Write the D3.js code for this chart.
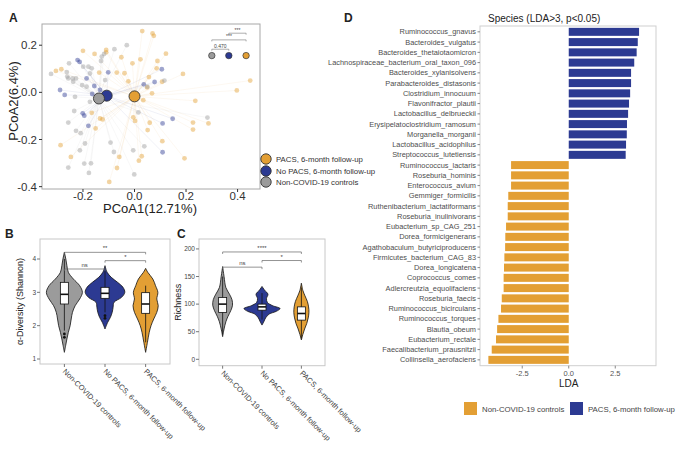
<!DOCTYPE html>
<html><head><meta charset="utf-8">
<script src="https://cdn.jsdelivr.net/npm/d3@7"></script>
<style>body{margin:0;background:#fff}svg{font-family:"Liberation Sans",Arial,sans-serif}</style>
</head><body><svg id="c" width="680" height="450"></svg>
<script>
// ---------------- DATA ----------------
const groupNames = ["PACS, 6-month follow-up","No PACS, 6-month follow-up","Non-COVID-19 controls"];
// Panel A: PCoA coordinates per group
const pacsPts = [[0.03,0.26],[0.07,0.25],[0.075,0.24],[-0.11,0.18],[-0.11,0.17],[-0.20,0.176],[-0.155,0.163],[-0.051,0.149],[0.122,0.164],[0.023,0.14],[0.089,0.133],[-0.008,0.123],[-0.305,0.091],[-0.284,0.098],[-0.137,0.084],[-0.069,0.084],[-0.039,0.081],[0.188,0.078],[0.086,0.102],[0.107,0.045],[-0.024,0.047],[0.449,0.05],[0.397,0.008],[0.049,0.021],[0.068,-0.004],[0.236,-0.036],[-0.134,-0.111],[-0.124,-0.115],[-0.005,-0.106],[0.002,-0.121],[0.059,-0.129],[0.227,-0.128],[0.287,-0.132],[0.227,-0.158],[0.108,-0.207],[0.051,-0.16],[-0.287,-0.224],[-0.151,-0.153],[-0.247,-0.274],[0.017,-0.29],[0.028,-0.271],[-0.059,-0.274],[-0.068,-0.321],[-0.098,-0.38],[0.194,-0.28],[-0.166,-0.087],[0.056,0.065],[0.034,-0.033]];
const noPacsPts = [[-0.221,0.137],[-0.213,0.129],[-0.102,0.085],[-0.289,0.01],[-0.271,-0.011],[-0.156,0.027],[0.106,0.098],[0.036,0.034],[0.078,0.044],[0.148,-0.112],[0.109,-0.132],[0.109,-0.254],[-0.201,-0.089],[-0.195,-0.099],[-0.179,-0.142],[-0.164,-0.007],[-0.134,0.01],[-0.186,0.059]];
const ctrlPts = [[-0.324,0.078],[-0.263,0.086],[-0.254,0.123],[-0.199,0.109],[-0.179,0.109],[-0.166,0.102],[-0.127,0.152],[-0.118,0.163],[-0.078,0.183],[-0.03,0.2],[-0.261,0.067],[-0.257,0.059],[-0.24,0.059],[-0.227,0.059],[-0.238,0.045],[-0.203,0.031],[-0.186,0.024],[-0.231,-0.019],[-0.134,-0.033],[-0.173,-0.04],[-0.234,-0.079],[-0.257,-0.128],[-0.227,-0.163],[-0.209,-0.173],[-0.192,-0.217],[-0.093,-0.213],[-0.08,-0.253],[-0.212,-0.246],[-0.257,-0.319],[-0.195,-0.302],[-0.169,-0.301],[-0.177,-0.342],[-0.001,-0.348],[0.015,-0.085],[0.283,-0.107],[0.038,-0.229],[-0.005,-0.246],[0.116,0.05],[0.05,0.024],[-0.13,0.133],[-0.173,0.08],[-0.114,0.052]];
const centroids = [[0.0,-0.017],[-0.108,-0.014],[-0.138,-0.026]]; // PACS, No PACS, Control
const aTicksX = [-0.2,0.0,0.2,0.4];
const aTickLabelsX = ["-0.2","0.0","0.2","0.4"];
const aTicksY = [0.2,0.0,-0.2,-0.4];
const aTickLabelsY = ["0.2","0.0","-0.2","-0.4"];
// inset significance (order: control, no PACS, PACS)
const sigX = [0.30,0.366,0.433];
const sigY = 0.156;
const sigBrackets = [[0,1,0.183,"0.470"],[0,2,0.2226,"***"],[1,2,0.251,"***"]];

// Panels B & C
const vCats = ["Non-COVID-19 controls","No PACS, 6-month follow-up","PACS, 6-month follow-up"];
const bDens = [
 [[4.2,0],[4.0,0.08],[3.8,0.14],[3.6,0.22],[3.4,0.5],[3.2,0.85],[3.0,1.0],[2.8,0.85],[2.6,0.6],[2.4,0.45],[2.2,0.38],[2.0,0.32],[1.8,0.22],[1.6,0.14],[1.4,0.07],[1.2,0]],
 [[3.8,0],[3.6,0.12],[3.45,0.35],[3.3,0.7],[3.15,1.0],[3.0,1.1],[2.85,0.92],[2.7,0.5],[2.55,0.45],[2.4,0.4],[2.25,0.3],[2.1,0.15],[1.9,0]],
 [[3.72,0],[3.6,0.12],[3.4,0.4],[3.2,0.55],[3.0,0.68],[2.8,0.62],[2.6,0.7],[2.4,0.62],[2.2,0.45],[2.0,0.3],[1.8,0.2],[1.5,0.1],[1.2,0]]
];
const bBox = [[2.65,2.94,3.3,1.85,4.0],[2.82,2.97,3.15,2.4,3.65],[2.37,2.65,2.99,1.5,3.2]]; // q1,med,q3,lo,hi
const bOut = [[1.75,1.65],[2.3,2.22],[]];
const bTicks = [1,2,3,4];
const bSig = [[0,2,4.2,"**"],[1,2,3.95,"*"],[0,1,3.7,"ns"]];
const cDens = [
 [[168,0],[150,0.08],[130,0.18],[118,0.38],[108,0.52],[98,0.55],[88,0.45],[78,0.3],[68,0.18],[55,0.08],[41,0]],
 [[132,0],[125,0.15],[118,0.33],[110,0.25],[103,0.3],[97,0.6],[92,1.0],[87,0.8],[82,0.4],[75,0.2],[68,0.1],[62,0]],
 [[138,0],[125,0.08],[115,0.2],[105,0.33],[95,0.4],[85,0.42],[75,0.38],[65,0.3],[55,0.18],[45,0.08],[35,0]]
];
const cBox = [[85,100,112,45,150],[89,95,100,72,120],[71,83,95,38,130]];
const cOut = [[],[],[]];
const cTicks = [0,50,100,150,200];
const cSig = [[0,2,194.5,"****"],[1,2,179,"*"],[0,1,167,"ns"]];

// Panel D
const species = ["Ruminococcus_gnavus","Bacteroides_vulgatus","Bacteroides_thetaiotaomicron","Lachnospiraceae_bacterium_oral_taxon_096","Bacteroides_xylanisolvens","Parabacteroides_distasonis","Clostridium_innocuum","Flavonifractor_plautii","Lactobacillus_delbrueckii","Erysipelatoclostridium_ramosum","Morganella_morganii","Lactobacillus_acidophilus","Streptococcus_lutetiensis","Ruminococcus_lactaris","Roseburia_hominis","Enterococcus_avium","Gemmiger_formicilis","Ruthenibacterium_lactatiformans","Roseburia_inulinivorans","Eubacterium_sp_CAG_251","Dorea_formicigenerans","Agathobaculum_butyriciproducens","Firmicutes_bacterium_CAG_83","Dorea_longicatena","Coprococcus_comes","Adlercreutzia_equolifaciens","Roseburia_faecis","Ruminococcus_bicirculans","Ruminococcus_torques","Blautia_obeum","Eubacterium_rectale","Faecalibacterium_prausnitzii","Collinsella_aerofaciens"];
const lda = [3.78,3.71,3.65,3.52,3.35,3.35,3.30,3.24,3.19,3.13,3.12,3.08,3.06,-3.10,-3.10,-3.10,-3.25,-3.28,-3.28,-3.37,-3.41,-3.42,-3.46,-3.48,-3.50,-3.50,-3.60,-3.64,-3.78,-3.85,-3.91,-4.14,-4.32];
const dTicks = [-2.5,0,2.5];
const dTickLabels = ["-2.5","0.0","2.5"];
const dLegend = ["Non-COVID-19 controls","PACS, 6-month follow-up"];

// ---------------- STYLE ----------------
const ORANGE = "#E39F34", BLUE = "#2C3A92", GRAY = "#9B9B9B";
const svg = d3.select("#c");
function label(t,x,y,opts={}){
  const e = svg.append("text").attr("x",x).attr("y",y).text(t)
    .attr("font-size",opts.size||10).attr("fill",opts.fill||"#222")
    .attr("text-anchor",opts.anchor||"start");
  if(opts.weight) e.attr("font-weight",opts.weight);
  if(opts.rotate!==undefined) e.attr("transform",`rotate(${opts.rotate},${x},${y})`);
  return e;
}

// ---------------- PANEL A ----------------
(function(){
  const x = d3.scaleLinear().domain([-0.359,0.487]).range([42,260]);
  const y = d3.scaleLinear().domain([-0.41,0.29]).range([189,24]);
  const g = svg.append("g");
  g.append("rect").attr("x",42).attr("y",24).attr("width",218).attr("height",165)
    .attr("fill","#fff").attr("stroke","#a8a8a8").attr("stroke-width",1);
  const sets = [[pacsPts,ORANGE,0],[noPacsPts,BLUE,1],[ctrlPts,GRAY,2]];
  sets.forEach(([pts,col,gi])=>{
    g.selectAll(null).data(pts).enter().append("line")
      .attr("x1",d=>x(d[0])).attr("y1",d=>y(d[1]))
      .attr("x2",x(centroids[gi][0])).attr("y2",y(centroids[gi][1]))
      .attr("stroke",col).attr("stroke-opacity",0.1).attr("stroke-width",0.7);
  });
  sets.forEach(([pts,col])=>{
    g.selectAll(null).data(pts).enter().append("circle")
      .attr("cx",d=>x(d[0])).attr("cy",d=>y(d[1])).attr("r",2.4)
      .attr("fill",col).attr("fill-opacity",0.45);
  });
  [[0,ORANGE],[1,BLUE],[2,GRAY]].forEach(([i,col])=>{
    g.append("circle").attr("cx",x(centroids[i][0])).attr("cy",y(centroids[i][1])).attr("r",5.5)
      .attr("fill",col).attr("stroke","#333").attr("stroke-width",0.9);
  });
  // inset significance
  const sigCols = [GRAY,BLUE,ORANGE];
  sigX.forEach((v,i)=>{
    g.append("circle").attr("cx",x(v)).attr("cy",y(sigY)).attr("r",3.2)
      .attr("fill",sigCols[i]).attr("stroke","#333").attr("stroke-width",0.7);
  });
  sigBrackets.forEach(([a,b,yy,t])=>{
    const yp = y(yy);
    g.append("path").attr("d",`M${x(sigX[a])},${yp+1.5}V${yp}H${x(sigX[b])}V${yp+1.5}`)
      .attr("fill","none").attr("stroke","#777").attr("stroke-width",0.6);
    label(t,(x(sigX[a])+x(sigX[b]))/2,yp-1.5,{size:5,anchor:"middle",fill:"#444"});
  });
  // axes
  aTicksX.forEach((v,i)=>{
    g.append("line").attr("x1",x(v)).attr("x2",x(v)).attr("y1",189).attr("y2",192).attr("stroke","#333");
    label(aTickLabelsX[i],x(v),200,{size:11.5,anchor:"middle",fill:"#333"});
  });
  aTicksY.forEach((v,i)=>{
    g.append("line").attr("x1",39).attr("x2",42).attr("y1",y(v)).attr("y2",y(v)).attr("stroke","#333");
    label(aTickLabelsY[i],37,y(v)+4,{size:11.5,anchor:"end",fill:"#333"});
  });
  label("PCoA1(12.71%)",150,213,{size:13,anchor:"middle"});
  label("PCoA2(6.4%)",18,101,{size:13,anchor:"middle",rotate:-90});
  label("A",9,22,{size:12,weight:"bold"});
  // legend
  const ly = [159,171,182];
  [ORANGE,BLUE,GRAY].forEach((col,i)=>{
    svg.append("circle").attr("cx",266).attr("cy",ly[i]).attr("r",5.2)
      .attr("fill",col).attr("stroke","#333").attr("stroke-width",0.9);
    label(groupNames[i],276,ly[i]+3,{size:7.8,fill:"#333"});
  });
})();

// ---------------- PANELS B & C ----------------
function violinPanel(o){
  const x = d3.scalePoint().domain(vCats).range([o.x0,o.x1]).padding(0.6);
  const y = d3.scaleLinear().domain(o.yDom).range([o.yb,o.yt]);
  const w = d3.scaleLinear().domain([0,1]).range([0,18]);
  const cols = [GRAY,BLUE,ORANGE];
  svg.append("rect").attr("x",o.x0).attr("y",o.yt).attr("width",o.x1-o.x0).attr("height",o.yb-o.yt)
    .attr("fill","#fff").attr("stroke","#c8c8c8").attr("stroke-width",1);
  o.dens.forEach((d,i)=>{
    const cx = x(vCats[i]);
    const area = d3.area().y(p=>y(p[0])).x0(p=>cx-w(p[1])).x1(p=>cx+w(p[1])).curve(d3.curveCatmullRom.alpha(0.5));
    svg.append("path").attr("d",area(d)).attr("fill",cols[i]).attr("stroke","#111").attr("stroke-width",0.8);
    const b = o.box[i], bw = 8;
    svg.append("line").attr("x1",cx).attr("x2",cx).attr("y1",y(b[3])).attr("y2",y(b[4])).attr("stroke","#111").attr("stroke-width",0.8);
    svg.append("rect").attr("x",cx-bw/2).attr("y",y(b[2])).attr("width",bw).attr("height",y(b[0])-y(b[2]))
      .attr("fill","#fff").attr("stroke","#111").attr("stroke-width",0.8);
    svg.append("line").attr("x1",cx-bw/2).attr("x2",cx+bw/2).attr("y1",y(b[1])).attr("y2",y(b[1])).attr("stroke","#111").attr("stroke-width",1.6);
    o.out[i].forEach(v=>svg.append("circle").attr("cx",cx).attr("cy",y(v)).attr("r",1.4).attr("fill","#111"));
    svg.append("line").attr("x1",cx).attr("x2",cx).attr("y1",o.yb).attr("y2",o.yb+3).attr("stroke","#777");
    label(vCats[i],cx-2,o.yb+8,{size:7.5,fill:"#444",rotate:45});
  });
  o.sig.forEach(([a,b,v,t])=>{
    const yp = y(v), xa = x(vCats[a]), xb = x(vCats[b]);
    svg.append("path").attr("d",`M${xa},${yp+2}V${yp}H${xb}V${yp+2}`).attr("fill","none").attr("stroke","#666").attr("stroke-width",0.7);
    label(t,(xa+xb)/2,yp-2,{size:6,anchor:"middle",fill:"#444"});
  });
  o.ticks.forEach(v=>{
    svg.append("line").attr("x1",o.x0-3).attr("x2",o.x0).attr("y1",y(v)).attr("y2",y(v)).attr("stroke","#777");
    label(String(v),o.x0-4,y(v)+2.3,{size:6.5,anchor:"end",fill:"#444"});
  });
  label(o.ylab,o.ylx,(o.yt+o.yb)/2,{size:9,anchor:"middle",rotate:-90});
  label(o.tag,o.tagx,238,{size:12,weight:"bold"});
}
violinPanel({x0:40,x1:170,yt:239,yb:364,yDom:[0.85,4.6],dens:bDens,box:bBox,out:bOut,sig:bSig,ticks:bTicks,ylab:"α-Diversity (Shannon)",ylx:23,tag:"B",tagx:5});
violinPanel({x0:199,x1:325,yt:239,yb:365.7,yDom:[-11.6,218],dens:cDens,box:cBox,out:cOut,sig:cSig,ticks:cTicks,ylab:"Richness",ylx:181,tag:"C",tagx:177});

// ---------------- PANEL D ----------------
(function(){
  const x = d3.scaleLinear().domain([-4.77,4.69]).range([480,656]);
  const y = d3.scaleBand().domain(species).range([26,365.7]).paddingInner(0.22).paddingOuter(0.18);
  svg.append("rect").attr("x",480).attr("y",26).attr("width",176).attr("height",339.7)
    .attr("fill","#fff").attr("stroke","#cfcfcf").attr("stroke-width",1);
  svg.selectAll(null).data(species).enter().append("rect")
    .attr("x",(d,i)=>x(Math.min(0,lda[i]))).attr("width",(d,i)=>Math.abs(x(lda[i])-x(0)))
    .attr("y",d=>y(d)).attr("height",y.bandwidth())
    .attr("fill",(d,i)=>lda[i]>0?BLUE:ORANGE);
  species.forEach(s=>{
    const yc = y(s)+y.bandwidth()/2;
    svg.append("line").attr("x1",477.5).attr("x2",480).attr("y1",yc).attr("y2",yc).attr("stroke","#888");
    label(s,476,yc+2.6,{size:7.4,anchor:"end",fill:"#4d4d4d"});
  });
  dTicks.forEach((v,i)=>{
    svg.append("line").attr("x1",x(v)).attr("x2",x(v)).attr("y1",365.7).attr("y2",368.5).attr("stroke","#888");
    label(dTickLabels[i],x(v),376,{size:7.5,anchor:"middle",fill:"#555"});
  });
  label("LDA",568.7,387,{size:10,anchor:"middle"});
  label("Species (LDA>3, p<0.05)",488,22,{size:10});
  label("D",344,22,{size:12,weight:"bold"});
  const lx = [464,570], lcol = [ORANGE,BLUE];
  dLegend.forEach((t,i)=>{
    svg.append("rect").attr("x",lx[i]).attr("y",402).attr("width",13).attr("height",13).attr("fill",lcol[i]);
    label(t,lx[i]+18,411.5,{size:7.8,fill:"#444"});
  });
})();
</script></body></html>
